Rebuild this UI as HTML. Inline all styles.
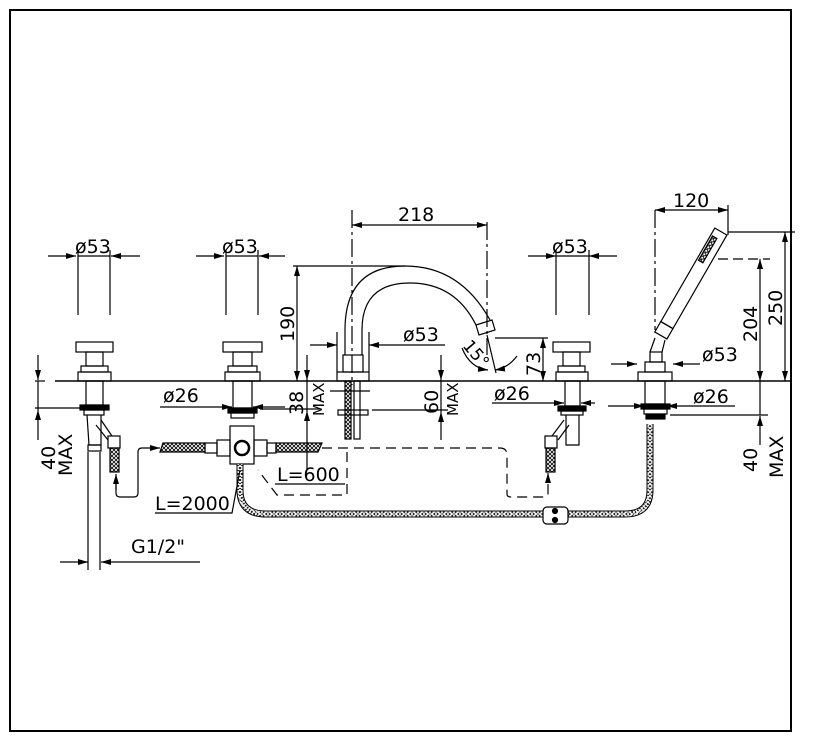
<!DOCTYPE html>
<html><head><meta charset="utf-8"><style>
html,body{margin:0;padding:0;background:#fff}
svg{display:block}
text{font-family:"DejaVu Sans","Liberation Sans",sans-serif;font-size:19px;fill:#000}
</style></head><body>
<svg width="813" height="741" viewBox="0 0 813 741" xmlns="http://www.w3.org/2000/svg">
<defs>
<pattern id="h" width="4" height="4" patternUnits="userSpaceOnUse"><path d="M0 0L4 4M4 0L0 4" stroke="#000" stroke-width="0.8"/></pattern>
<marker id="a" viewBox="0 0 10 6" refX="10" refY="3" markerWidth="10" markerHeight="6" orient="auto-start-reverse" markerUnits="userSpaceOnUse"><path d="M0 0L10 3L0 6Z"/></marker>
</defs>
<rect x="10" y="10" width="781" height="721" fill="none" stroke="#000" stroke-width="2"/>
<g stroke="#000" stroke-width="1.2" fill="none">
<line x1="35" y1="381" x2="45" y2="381"/><line x1="55" y1="381" x2="790" y2="381" stroke-width="1.6"/>
<rect x="76" y="342" width="37" height="10"/><rect x="86" y="352" width="17" height="14"/><rect x="81" y="366" width="27" height="6"/><rect x="78" y="372" width="33" height="9"/>
<rect x="86" y="381" width="17" height="24"/><rect x="80" y="405" width="29" height="5" fill="#000"/><rect x="84" y="410" width="20" height="5"/>
<path d="M87 415L89 445H101L101 415"/><rect x="88" y="445" width="13" height="6"/>
<path d="M101 420L112 436"/><path d="M96 425L108 440"/><rect x="108" y="436" width="12" height="12"/><rect x="110" y="448" width="9" height="24" fill="url(#h)"/>
<line x1="48" y1="256" x2="76" y2="256" marker-end="url(#a)"/><line x1="140" y1="256" x2="111" y2="256" marker-end="url(#a)"/><line x1="78" y1="256" x2="110" y2="256"/>
<line x1="78" y1="250" x2="78" y2="315"/><line x1="110" y1="250" x2="110" y2="315"/>
<rect x="223" y="342" width="39" height="10"/><rect x="233" y="352" width="19" height="14"/><rect x="228" y="366" width="29" height="6"/><rect x="225" y="372" width="35" height="9"/>
<rect x="233" y="381" width="19" height="27"/><rect x="228" y="408" width="29" height="5" fill="#000"/><rect x="231" y="413" width="23" height="5"/>
<line x1="196" y1="256" x2="224" y2="256" marker-end="url(#a)"/><line x1="285" y1="256" x2="259" y2="256" marker-end="url(#a)"/><line x1="226" y1="256" x2="258" y2="256"/>
<line x1="226" y1="250" x2="226" y2="315"/><line x1="258" y1="250" x2="258" y2="315"/>
<rect x="230" y="426" width="24" height="38"/><circle cx="242" cy="448" r="7" stroke-width="2.5"/>
<rect x="217" y="440" width="13" height="16"/><rect x="254" y="440" width="13" height="16"/><rect x="205" y="443" width="12" height="10"/><rect x="267" y="443" width="9" height="10"/>
<path d="M163 443H205V452H160Z" fill="url(#h)"/><path d="M276 443H322L318 452H276Z" fill="url(#h)"/>
<path d="M240 464V490Q240 514 266 514H625Q650 514 650 490V424" stroke-width="7" stroke="#000"/>
<path d="M240 464V490Q240 514 266 514H625Q650 514 650 490V424" stroke-width="5" stroke="#fff"/>
<path d="M240 464V490Q240 514 266 514H625Q650 514 650 490V424" stroke-width="5" stroke="url(#h)" stroke-dasharray="2 1"/>
<rect x="543" y="507" width="25" height="17" rx="4" fill="#fff"/><circle cx="555" cy="511" r="2.5" fill="#000"/><circle cx="555" cy="520" r="2.5" fill="#000"/>
<path d="M322 448H500Q507 448 507 455V494Q507 497 511 497H544Q548 497 548 493V478" stroke-dasharray="10 6"/>
<path d="M548 480V473" marker-end="url(#a)"/>
<path d="M116 478V493Q116 497 120 497H134Q138 497 138 493V452Q138 448 142 448H160" marker-end="url(#a)"/>
<line x1="116" y1="490" x2="116" y2="474" marker-end="url(#a)"/>
<path d="M347 452V495H277L258 470" stroke-dasharray="10 6"/>
<line x1="275" y1="484" x2="345" y2="484"/>
<path d="M155 513H232L240 470"/>
<line x1="307" y1="355" x2="307" y2="380" marker-end="url(#a)"/><line x1="307" y1="470" x2="307" y2="411" marker-end="url(#a)"/><line x1="307" y1="380" x2="307" y2="411"/>
<line x1="260" y1="409" x2="320" y2="409"/>
<line x1="160" y1="407" x2="232" y2="407" marker-end="url(#a)"/><line x1="285" y1="407" x2="253" y2="407" marker-end="url(#a)"/>
<path d="M345 355V330Q345 266 405 266Q460 266 490 320"/>
<path d="M362 355V330Q362 283 410 283Q455 283 476 325"/>
<path d="M476 325L492 320L495 330L479 335Z"/>
<rect x="343" y="355" width="20" height="17"/><rect x="337" y="372" width="32" height="9"/>
<rect x="345" y="381" width="6" height="58" fill="url(#h)"/><rect x="354" y="381" width="6" height="58"/>
<line x1="330" y1="391" x2="370" y2="391"/><rect x="338" y="410" width="30" height="5"/>
<line x1="352" y1="210" x2="352" y2="385" stroke-dasharray="18 4 3 4"/>
<line x1="487" y1="222" x2="487" y2="355" stroke-dasharray="18 4 3 4"/>
<line x1="352" y1="225" x2="487" y2="225" marker-start="url(#a)" marker-end="url(#a)"/>
<line x1="293" y1="266" x2="405" y2="266"/>
<line x1="297" y1="266" x2="297" y2="381" marker-start="url(#a)" marker-end="url(#a)"/>
<line x1="310" y1="345" x2="337" y2="345" marker-end="url(#a)"/><line x1="445" y1="345" x2="369" y2="345" marker-end="url(#a)"/><line x1="337" y1="332" x2="337" y2="372"/><line x1="369" y1="332" x2="369" y2="372"/>
<path d="M462 348Q470 368 488 370" marker-end="url(#a)"/><path d="M517 356Q508 368 495 370" marker-end="url(#a)"/>
<line x1="487" y1="335" x2="496" y2="373"/>
<line x1="495" y1="338" x2="548" y2="338"/>
<line x1="543" y1="338" x2="543" y2="381" marker-start="url(#a)" marker-end="url(#a)"/>
<line x1="441" y1="355" x2="441" y2="380" marker-end="url(#a)"/><line x1="441" y1="440" x2="441" y2="412" marker-end="url(#a)"/><line x1="441" y1="380" x2="441" y2="412"/>
<line x1="372" y1="410" x2="448" y2="410"/>
<rect x="553" y="342" width="37" height="10"/><rect x="563" y="352" width="17" height="14"/><rect x="558" y="366" width="27" height="6"/><rect x="556" y="372" width="32" height="9"/>
<rect x="565" y="381" width="15" height="25"/><rect x="558" y="406" width="28" height="5" fill="#000"/><rect x="561" y="411" width="22" height="4"/>
<path d="M566 415V445H579V415"/><path d="M564 420L552 436"/><path d="M569 425L558 440"/><rect x="545" y="436" width="12" height="12"/><rect x="546" y="448" width="9" height="24" fill="url(#h)"/>
<line x1="528" y1="256" x2="556" y2="256" marker-end="url(#a)"/><line x1="617" y1="256" x2="589" y2="256" marker-end="url(#a)"/><line x1="556" y1="256" x2="589" y2="256"/>
<line x1="556" y1="250" x2="556" y2="315"/><line x1="589" y1="250" x2="589" y2="315"/>
<line x1="492" y1="403" x2="564" y2="403" marker-end="url(#a)"/><line x1="595" y1="403" x2="581" y2="403" marker-end="url(#a)"/>
<rect x="638" y="372" width="34" height="9"/><rect x="645" y="362" width="20" height="10"/><rect x="650" y="352" width="12" height="10"/>
<path d="M650 352L655 338M662 352L665 340"/>
<rect x="645" y="381" width="20" height="23"/><rect x="641" y="404" width="29" height="5" fill="#000"/><rect x="644" y="409" width="23" height="5"/><rect x="646" y="414" width="19" height="5" fill="#000"/>
<g transform="translate(660 335) rotate(30)"><rect x="-6" y="-12" width="14" height="12"/><rect x="-6" y="-120" width="14" height="108"/><rect x="-4" y="-112" width="5" height="28" fill="url(#h)"/></g>
<line x1="655" y1="210" x2="655" y2="330" stroke-dasharray="18 4 3 4"/>
<line x1="728" y1="205" x2="728" y2="235"/>
<line x1="655" y1="210" x2="728" y2="210" marker-start="url(#a)" marker-end="url(#a)"/>
<line x1="611" y1="364" x2="637" y2="364" marker-end="url(#a)"/><line x1="700" y1="364" x2="673" y2="364" marker-end="url(#a)"/>
<line x1="608" y1="406" x2="644" y2="406" marker-end="url(#a)"/><line x1="735" y1="406" x2="667" y2="406" marker-end="url(#a)"/>
<line x1="728" y1="232" x2="795" y2="232"/><line x1="718" y1="259" x2="770" y2="259" stroke-dasharray="10 5"/>
<line x1="785" y1="232" x2="785" y2="381" marker-start="url(#a)" marker-end="url(#a)"/>
<line x1="760" y1="259" x2="760" y2="381" marker-start="url(#a)" marker-end="url(#a)"/>
<line x1="670" y1="415" x2="768" y2="415"/>
<line x1="760" y1="381" x2="760" y2="415"/><line x1="760" y1="445" x2="760" y2="416" marker-end="url(#a)"/>
<line x1="38" y1="355" x2="38" y2="380" marker-end="url(#a)"/><line x1="38" y1="440" x2="38" y2="410" marker-end="url(#a)"/><line x1="38" y1="381" x2="38" y2="410"/>
<line x1="35" y1="408" x2="80" y2="408"/>
<line x1="88" y1="452" x2="88" y2="570"/><line x1="100" y1="452" x2="100" y2="570"/>
<line x1="60" y1="562" x2="88" y2="562" marker-end="url(#a)"/><line x1="200" y1="562" x2="101" y2="562" marker-end="url(#a)"/>
</g>
<text x="75" y="253">ø53</text><text x="222" y="253">ø53</text><text x="552" y="253">ø53</text>
<text x="398" y="221">218</text><text x="673" y="207">120</text>
<text x="403" y="341">ø53</text><text x="702" y="361">ø53</text>
<text x="163" y="402">ø26</text><text x="494" y="400">ø26</text><text x="693" y="403">ø26</text>
<text x="277" y="481">L=600</text><text x="155" y="510">L=2000</text><text x="131" y="553">G1/2"</text>
<text transform="translate(294 342) rotate(-90)">190</text>
<text transform="translate(303 415) rotate(-90)">38</text>
<text transform="translate(324 416) rotate(-90)" style="font-size:15px">MAX</text>
<text transform="translate(438 414) rotate(-90)">60</text>
<text transform="translate(458 416) rotate(-90)" style="font-size:15px">MAX</text>
<text transform="translate(540 376) rotate(-90)">73</text>
<text transform="translate(757 342) rotate(-90)">204</text>
<text transform="translate(782 326) rotate(-90)">250</text>
<text transform="translate(757 472) rotate(-90)">40</text>
<text transform="translate(783 478) rotate(-90)">MAX</text>
<text transform="translate(55 470) rotate(-90)">40</text>
<text transform="translate(72 476) rotate(-90)">MAX</text>
<text transform="translate(462 346) rotate(50)" style="font-size:17px">15°</text>
</svg>
</body></html>
